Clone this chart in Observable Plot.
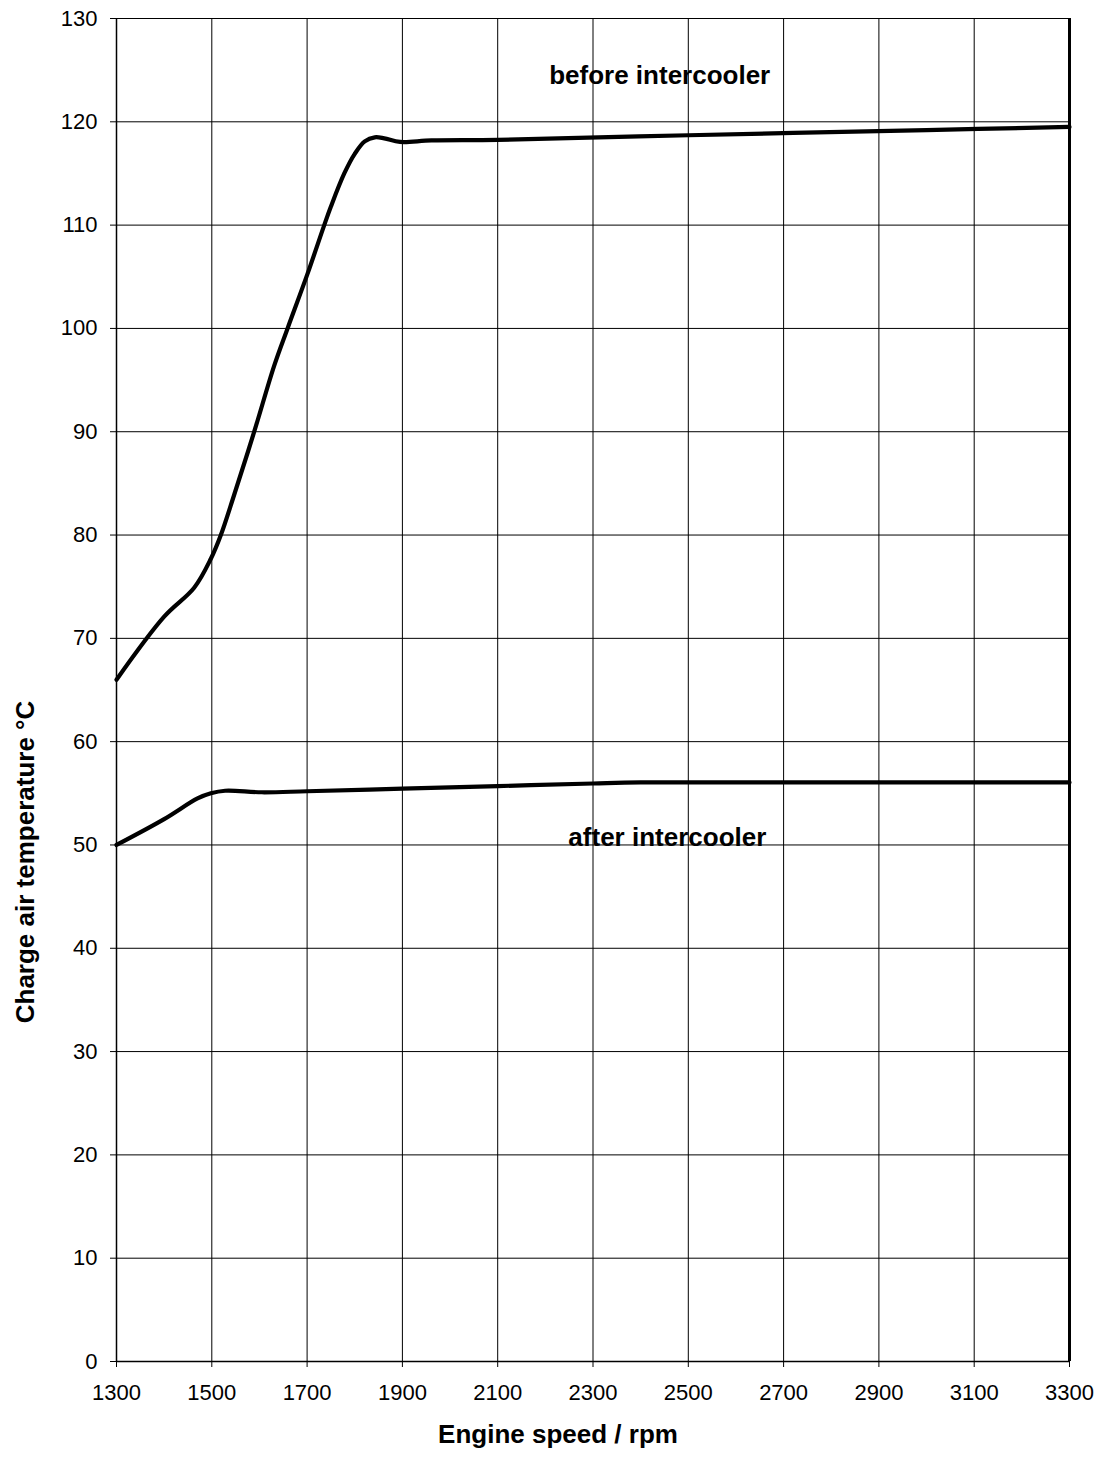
<!DOCTYPE html>
<html>
<head>
<meta charset="utf-8">
<script src="https://cdn.jsdelivr.net/npm/d3@7"></script>
<script src="https://cdn.jsdelivr.net/npm/@observablehq/plot@0.6"></script>
<style>
  html, body { margin: 0; padding: 0; background: #fff; }
  svg { font-family: "Liberation Sans", Arial, sans-serif; }
</style>
</head>
<body>
<div id="chart"></div>
<script>
const beforeRpm = [1300, 1400, 1463, 1498, 1519, 1547, 1589, 1631, 1659, 1701, 1736, 1750, 1778, 1800, 1821, 1842, 1862, 1895, 1961, 2100, 2500, 3000, 3300];
const beforeTemp = [66.0, 72.1, 74.9, 77.7, 80.0, 83.9, 90.0, 96.4, 100.0, 105.3, 110.0, 111.8, 115.0, 116.9, 118.1, 118.5, 118.4, 118.05, 118.2, 118.25, 118.7, 119.2, 119.5];
const afterRpm = [1300, 1400, 1470, 1498, 1528, 1605, 1700, 1900, 2100, 2300, 2400, 2800, 3300];
const afterTemp = [50.0, 52.5, 54.5, 55.0, 55.25, 55.1, 55.2, 55.45, 55.7, 55.95, 56.05, 56.05, 56.05];
const xTicks = [1300, 1500, 1700, 1900, 2100, 2300, 2500, 2700, 2900, 3100, 3300];
const yTicks = [0, 10, 20, 30, 40, 50, 60, 70, 80, 90, 100, 110, 120, 130];
const labels = [
  {rpm: 2440, temp: 124.5, text: "before intercooler"},
  {rpm: 2456, temp: 50.7, text: "after intercooler"}
];
const xTitle = "Engine speed / rpm";
const yTitle = "Charge air temperature °C";

const before = beforeRpm.map((r, i) => ({rpm: r, temp: beforeTemp[i]}));
const after = afterRpm.map((r, i) => ({rpm: r, temp: afterTemp[i]}));

const chart = Plot.plot({
  width: 1103,
  height: 1457,
  marginLeft: 116,
  marginRight: 34,
  marginTop: 18,
  marginBottom: 96,
  style: {fontFamily: "'Liberation Sans', Arial, sans-serif", fontSize: "22px", background: "#fff", color: "#000"},
  x: {domain: [1300, 3300], ticks: xTicks, tickFormat: d => String(d), label: null},
  y: {domain: [0, 130], ticks: yTicks, label: null},
  marks: [
    Plot.gridX(xTicks, {stroke: "#000", strokeOpacity: 1, strokeWidth: 1}),
    Plot.gridY(yTicks, {stroke: "#000", strokeOpacity: 1, strokeWidth: 1}),
    Plot.axisX({ticks: xTicks, tickFormat: d => String(d), tickSize: 6, tickPadding: 17, fontSize: 22, label: null}),
    Plot.axisY({ticks: yTicks, tickSize: 6, tickPadding: 13, fontSize: 22, label: null}),
    Plot.ruleX([1300], {stroke: "#000", strokeWidth: 1.5}),
    Plot.ruleX([3300], {stroke: "#000", strokeWidth: 3}),
    Plot.ruleY([0], {stroke: "#000", strokeWidth: 1.5}),
    Plot.line(before, {x: "rpm", y: "temp", stroke: "#000", strokeWidth: 4.2, curve: "catmull-rom"}),
    Plot.line(after, {x: "rpm", y: "temp", stroke: "#000", strokeWidth: 4.2, curve: "catmull-rom"}),
    Plot.text(labels, {x: "rpm", y: "temp", text: "text", fontSize: 26, fontWeight: "bold", fill: "#000"}),
    Plot.text([xTitle], {frameAnchor: "bottom", textAnchor: "middle", lineAnchor: "middle", dx: -35, dy: 73, fontSize: 26, fontWeight: "bold", fill: "#000"}),
    Plot.text([yTitle], {frameAnchor: "left", textAnchor: "middle", lineAnchor: "middle", dx: -91, dy: 172, rotate: -90, fontSize: 26, fontWeight: "bold", fill: "#000"})
  ]
});
document.getElementById("chart").appendChild(chart);
</script>
</body>
</html>
